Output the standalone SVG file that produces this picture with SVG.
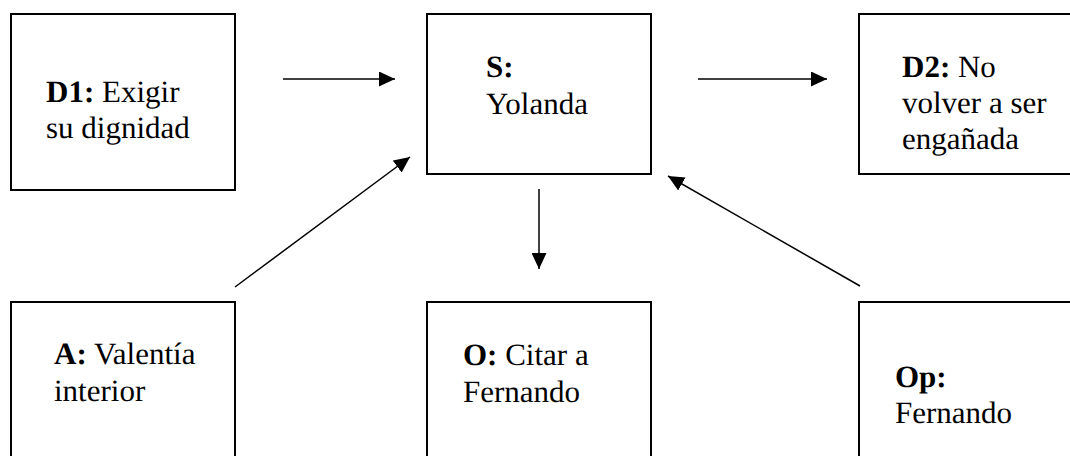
<svg xmlns="http://www.w3.org/2000/svg" width="1070" height="456" viewBox="0 0 1070 456">
<defs>
  <marker id="ah" viewBox="0 0 16 15" refX="16" refY="7.5" markerWidth="16" markerHeight="15" markerUnits="userSpaceOnUse" orient="auto">
    <path d="M0,0 L16,7.5 L0,15 Z" fill="#000"/>
  </marker>
</defs>
<rect width="1070" height="456" fill="#fff"/>
<g id="connectors" stroke="#000" stroke-width="1.5" marker-end="url(#ah)">
  <line x1="283" y1="79" x2="395" y2="79"/>
  <line x1="698" y1="79" x2="827" y2="79"/>
  <line x1="235" y1="287" x2="410" y2="157"/>
  <line x1="539" y1="189" x2="539" y2="269"/>
  <line x1="860" y1="286" x2="668" y2="176"/>
</g>
<g id="node-d1">
  <rect x="11" y="14" width="224" height="176" fill="#fff" stroke="#000" stroke-width="2"/>
  <text x="46" y="102" font-family="Liberation Serif" font-size="31" font-weight="normal" text-rendering="geometricPrecision"><tspan font-weight="bold">D1:</tspan> Exigir</text>
  <text x="46" y="138" font-family="Liberation Serif" font-size="31" font-weight="normal" text-rendering="geometricPrecision">su dignidad</text>
</g>
<g id="node-s">
  <rect x="427" y="14" width="224" height="160" fill="#fff" stroke="#000" stroke-width="2"/>
  <text x="486" y="77" font-family="Liberation Serif" font-size="31" font-weight="bold" text-rendering="geometricPrecision">S:</text>
  <text x="486" y="114" font-family="Liberation Serif" font-size="31" font-weight="normal" text-rendering="geometricPrecision">Yolanda</text>
</g>
<g id="node-d2">
  <rect x="859" y="14" width="260" height="160" fill="#fff" stroke="#000" stroke-width="2"/>
  <text x="902" y="77" font-family="Liberation Serif" font-size="31" font-weight="normal" text-rendering="geometricPrecision"><tspan font-weight="bold">D2:</tspan> No</text>
  <text x="902" y="113" font-family="Liberation Serif" font-size="31" font-weight="normal" text-rendering="geometricPrecision">volver a ser</text>
  <text x="902" y="149" font-family="Liberation Serif" font-size="31" font-weight="normal" text-rendering="geometricPrecision">engañada</text>
</g>
<g id="node-a">
  <rect x="11" y="302" width="224" height="190" fill="#fff" stroke="#000" stroke-width="2"/>
  <text x="54" y="364" font-family="Liberation Serif" font-size="31" font-weight="normal" text-rendering="geometricPrecision"><tspan font-weight="bold">A:</tspan> Valentía</text>
  <text x="54" y="401" font-family="Liberation Serif" font-size="31" font-weight="normal" text-rendering="geometricPrecision">interior</text>
</g>
<g id="node-o">
  <rect x="427" y="302" width="224" height="190" fill="#fff" stroke="#000" stroke-width="2"/>
  <text x="463" y="365" font-family="Liberation Serif" font-size="31" font-weight="normal" text-rendering="geometricPrecision"><tspan font-weight="bold">O:</tspan> Citar a</text>
  <text x="463" y="402" font-family="Liberation Serif" font-size="31" font-weight="normal" text-rendering="geometricPrecision">Fernando</text>
</g>
<g id="node-op">
  <rect x="859" y="302" width="260" height="190" fill="#fff" stroke="#000" stroke-width="2"/>
  <text x="895" y="387" font-family="Liberation Serif" font-size="31" font-weight="bold" text-rendering="geometricPrecision">Op:</text>
  <text x="895" y="423" font-family="Liberation Serif" font-size="31" font-weight="normal" text-rendering="geometricPrecision">Fernando</text>
</g>
</svg>
